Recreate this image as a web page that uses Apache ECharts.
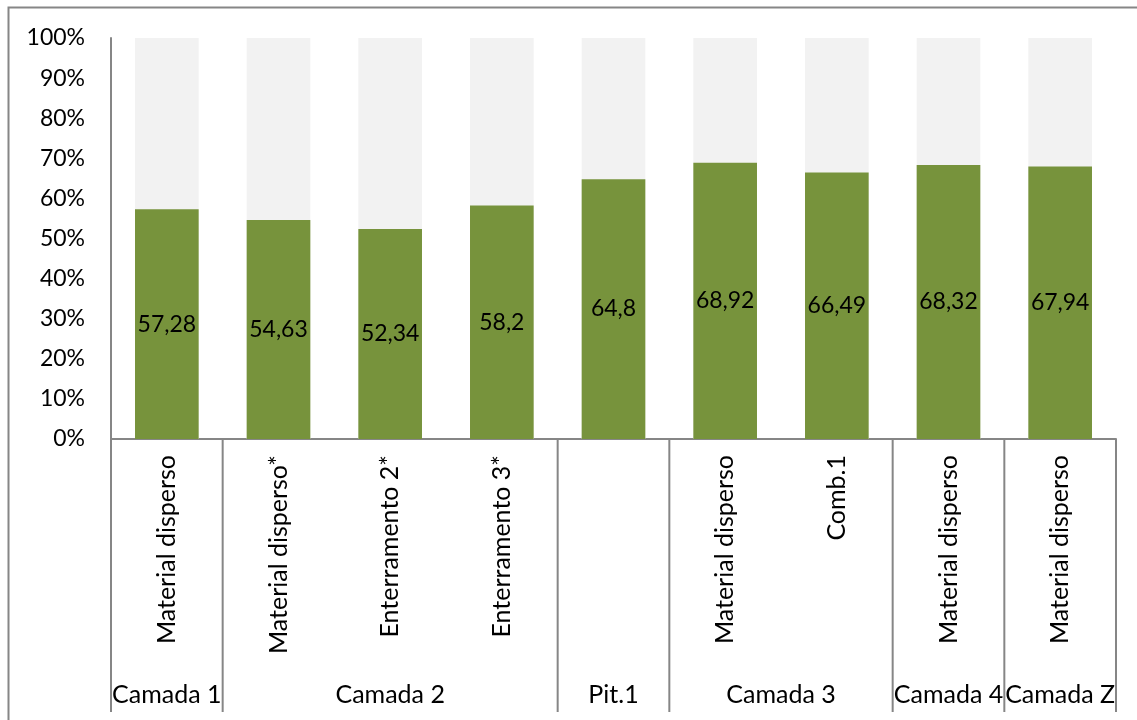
<!DOCTYPE html>
<html>
<head>
<meta charset="utf-8">
<script src="https://cdn.jsdelivr.net/npm/echarts@6/dist/echarts.min.js"></script>
<style>
html,body{margin:0;padding:0;background:#fff;}
#chart{width:1137px;height:720px;}
</style>
</head>
<body>
<div id="chart"></div>
<script>
var categories = ['Material disperso', 'Material disperso*', 'Enterramento 2*', 'Enterramento 3*', '', 'Material disperso', 'Comb.1', 'Material disperso', 'Material disperso'];
var values = [57.28, 54.63, 52.34, 58.2, 64.8, 68.92, 66.49, 68.32, 67.94];
var groupNames = ['Camada 1', 'Camada 2', 'Pit.1', 'Camada 3', 'Camada 4', 'Camada Z'];
var groupStart = [0, 1, 4, 5, 7, 8];
var groupEnd = [0, 3, 4, 6, 7, 8];

var FONT = 'Lato';
var chart = echarts.init(document.getElementById('chart'));
var option = {
  animation: false,
  grid: {left: 111, right: 21, top: 38, bottom: 281, containLabel: false},
  xAxis: {
    type: 'category',
    data: categories.map(function(c, i){ return i; }),
    axisLine: {show: true, lineStyle: {color: '#868686', width: 2}},
    axisTick: {show: false},
    axisLabel: {
      rotate: 90, interval: 0, margin: 16,
      fontFamily: FONT, fontSize: 25, color: '#000',
      formatter: function(v){ return categories[+v]; }
    }
  },
  yAxis: {
    type: 'value', min: 0, max: 100, interval: 10,
    axisLine: {show: true, lineStyle: {color: '#868686', width: 2}},
    axisTick: {show: false},
    splitLine: {show: false},
    axisLabel: {formatter: '{value}%', fontFamily: FONT, fontSize: 23, color: '#000', margin: 26}
  },
  series: [{
    type: 'bar',
    data: values,
    barWidth: '57%',
    showBackground: true,
    backgroundStyle: {color: '#F2F2F2'},
    itemStyle: {color: '#77933C'},
    label: {
      show: true, position: 'inside',
      fontFamily: FONT, fontSize: 23, color: '#000',
      formatter: function(p){ return String(p.value).replace('.', ','); }
    }
  }]
};
chart.setOption(option);

var g = [];
var y0 = chart.convertToPixel({yAxisIndex: 0}, 0);
var yBottom = 712;
var half = (chart.convertToPixel({xAxisIndex: 0}, 1) - chart.convertToPixel({xAxisIndex: 0}, 0)) / 2;
function px(i){ return chart.convertToPixel({xAxisIndex: 0}, i); }
var bounds = [px(0) - half];
groupEnd.forEach(function(e){ bounds.push(px(e) + half); });
bounds.forEach(function(x){
  g.push({type: 'line', silent: true, shape: {x1: x, y1: y0, x2: x, y2: yBottom}, style: {stroke: '#868686', lineWidth: 2}});
});
groupNames.forEach(function(n, k){
  var cx = (px(groupStart[k]) + px(groupEnd[k])) / 2;
  g.push({type: 'text', silent: true, x: cx, y: 695, style: {text: n, fontFamily: FONT, fontSize: 25, fill: '#000', align: 'center', verticalAlign: 'middle'}});
});
g.push({type: 'rect', silent: true, shape: {x: 8.5, y: 7.5, width: 1140, height: 730}, style: {fill: null, stroke: '#868686', lineWidth: 2}});
chart.setOption({graphic: g});
</script>
</body>
</html>
